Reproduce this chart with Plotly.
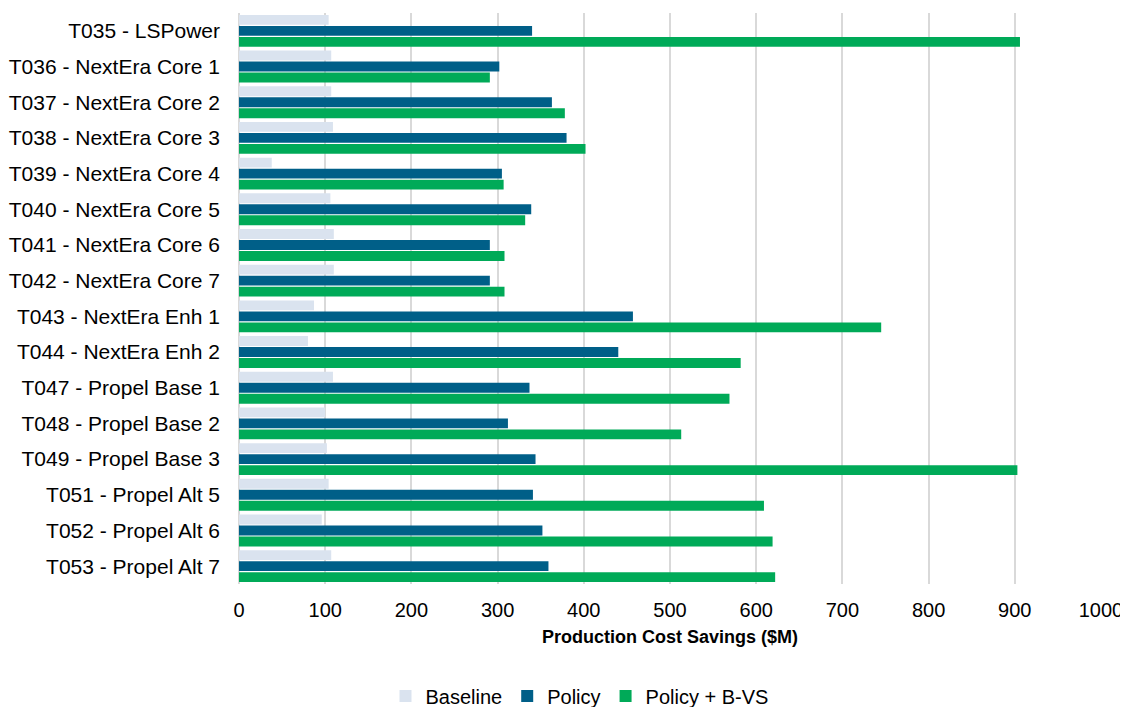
import plotly.graph_objects as go

categories = [
    "T035 - LSPower", "T036 - NextEra Core 1", "T037 - NextEra Core 2",
    "T038 - NextEra Core 3", "T039 - NextEra Core 4", "T040 - NextEra Core 5",
    "T041 - NextEra Core 6", "T042 - NextEra Core 7", "T043 - NextEra Enh 1",
    "T044 - NextEra Enh 2", "T047 - Propel Base 1", "T048 - Propel Base 2",
    "T049 - Propel Base 3", "T051 - Propel Alt 5", "T052 - Propel Alt 6",
    "T053 - Propel Alt 7",
]
baseline = [104, 107, 107, 109, 38, 106, 110, 110, 87, 80, 109, 100, 102, 104, 96, 107]
policy = [340, 302, 363, 380, 305, 339, 291, 291, 457, 440, 337, 312, 344, 341, 352, 359]
policy_bvs = [906, 291, 378, 402, 307, 332, 308, 308, 745, 582, 569, 513, 903, 609, 619, 622]

x_ticks = [0, 100, 200, 300, 400, 500, 600, 700, 800, 900, 1000]

series = [
    ("Baseline", baseline, "#DAE3EF"),
    ("Policy", policy, "#005F88"),
    ("Policy + B-VS", policy_bvs, "#00AA58"),
]

fig = go.Figure()
for name, vals, color in series:
    fig.add_trace(go.Bar(
        y=categories, x=vals, name=name, orientation="h",
        marker=dict(color=color, line=dict(width=0)),
    ))

fig.update_layout(
    width=1120, height=699,
    margin=dict(l=231, r=27, t=5, b=123, autoexpand=False),
    paper_bgcolor="white", plot_bgcolor="white",
    barmode="group", bargap=0.075, bargroupgap=0.1,
    font=dict(family="Liberation Sans, Arial, sans-serif", size=20, color="#000000"),
    showlegend=True,
    legend=dict(
        orientation="h", xanchor="center", x=0.395, yanchor="middle", y=-0.196,
        font=dict(size=20), itemwidth=30, tracegroupgap=0,
    ),
    xaxis=dict(
        range=[0, 1000], tickvals=x_ticks, ticktext=[str(v) for v in x_ticks],
        showgrid=True, gridcolor="#D9D9D9", gridwidth=1.5,
        zeroline=True, zerolinecolor="#D9D9D9", zerolinewidth=1.5,
        showline=False, ticks="", tickfont=dict(size=20), ticklabelstandoff=12,
        automargin=False,
        title=dict(
            text="<b>Production Cost Savings ($M)</b>",
            font=dict(family="Liberation Sans Narrow, Arial Narrow, sans-serif", size=18),
            standoff=10,
        ),
        fixedrange=True,
    ),
    yaxis=dict(
        autorange="reversed", showgrid=False, ticks="", ticklabelstandoff=18,
        tickfont=dict(size=21), showline=False, fixedrange=True, automargin=False,
    ),
)

fig.write_html("out.html")
